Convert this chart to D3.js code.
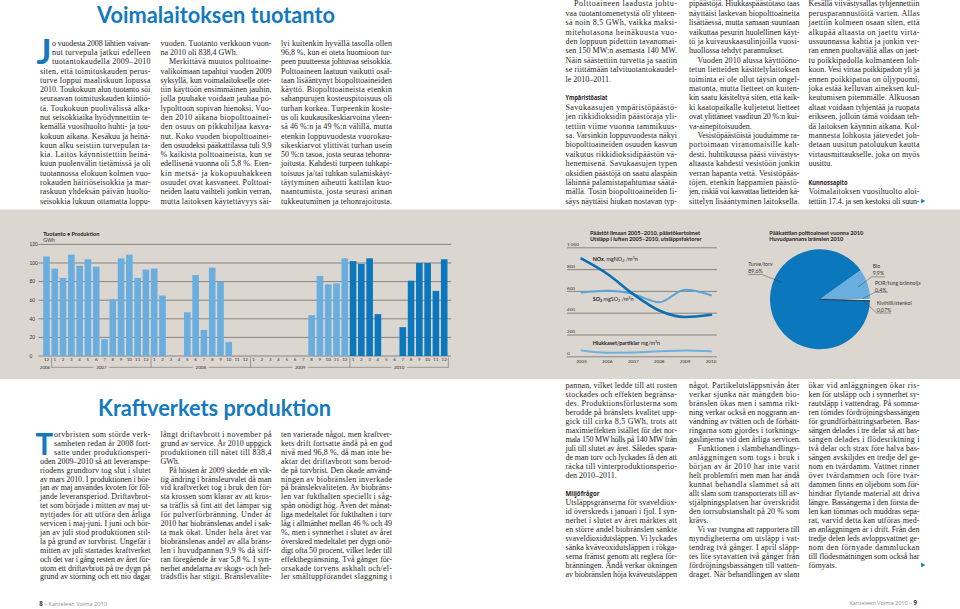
<!DOCTYPE html>
<html lang="fi">
<head>
<meta charset="utf-8">
<script src="https://cdn.jsdelivr.net/npm/d3@7/dist/d3.min.js"></script>
<style>
html,body{margin:0;padding:0;background:#fff;}
svg{display:block;}
</style>
</head>
<body>
<svg id="page" width="960" height="609"></svg>
<script>
// ================= DATA =================
// Production chart (GWh per month)
const prodYears = ["2006","2007","2008","2009","2010"];
const prodMonthLabels = ["12",
  "1","2","3","4","5","6","7","8","9","10","11","12",
  "1","2","3","4","5","6","7","8","9","10","11","12",
  "1","2","3","4","5","6","7","8","9","10","11","12",
  "1","2","3","4","5","6","7","8","9","10","11","12"];
const prodValues = [107,
  94,84,109,97,104,96,18,61,105,109,84,93,
  94,65,0,0,47,87,28,95,80,15,0,0,
  0,0,0,0,0,0,0,44,86,77,78,105,
  102,99,105,45,0,0,31,81,100,100,70,104];
const prodTicks = [0,20,40,60,80,100,120];
const prodHighlightYear = "2010";

// Emissions chart
const emisYears = ["2005","2006","2007","2008","2009","2010"];
const noxValues  = [900,760,575,425,365,385];
const so2Values  = [590,605,575,500,615,565];
const partValues = [58,38,40,50,58,50];
const emisTicks = [0,200,400,600,800,1000];
const emisTickLabels = ["0","200","400","600","800","1 000"];

// Fuel pie
const fuelNames  = ["Turve/torv","Bio","POR/tung brännolja","Kivihiili/stenkol"];
const fuelShares = [89.6, 9.9, 0.4, 0.07];
const fuelLabels = ["89,6%","9,9%","0,4%","0,07%"];

// Chart titles
const prodTitle = "Tuotanto • Produktion";
const prodUnit = "GWh";
const emisTitle = ["Päästöt ilmaan 2005–2010, päästökertoimet","Utsläpp i luften 2005–2010, utsläppsfaktorer"];
const pieTitle = ["Pääkattilan polttoaineet vuonna 2010","Huvudpannans bränslen 2010"];

// ================= TEXT =================
const titleFi = "Voimalaitoksen tuotanto";
const titleSv = "Kraftverkets produktion";

const fiCol1 = ["<o vuodesta 2008 lähtien vaivan-","<nut turvepula jatkui edelleen","<tuotantokaudella 2009–2010",
"siten, että toimituskauden perus-","turve loppui maaliskuun lopussa","2010. Toukokuun alun tuotanto söi",
"seuraavan toimituskauden kiintiö-","tä. Toukokuun puolivälissä alka-","nut seisokkiaika hyödynnettiin te-",
"kemällä vuosihuolto huhti- ja tou-","kokuun aikana. Kesäkuu ja heinä-","kuun alku seistiin turvepulan ta-",
"kia. Laitos käynnistettiin heinä-","kuun puolenvälin tietämissä ja oli","tuotannossa elokuun kolmen vuo-",
"rokauden häiriöseisokkia ja mar-","raskuun yhdeksän päivän huolto-","seisokkia lukuun ottamatta loppu-"];
const fiCol2 = ["vuoden. Tuotanto verkkoon vuon-","na 2010 oli 838,4 GWh.|",">Merkittävä muutos polttoaine-",
"valikoimaan tapahtui vuoden 2009","syksyllä, kun voimalaitokselle otet-","tiin käyttöön ensimmäinen jauhin,",
"jolla puuhake voidaan jauhaa pö-","lypolttoon sopivan hienoksi. Vuo-","den 2010 aikana biopolttoainei-",
"den osuus on pikkuhiljaa kasva-","nut. Koko vuoden biopolttoainei-","den osuudeksi pääkattilassa tuli 9,9",
"% kaikista polttoaineista, kun se","edellisenä vuonna oli 5,8 %. Eten-","kin metsä- ja kokopuuhakkeen",
"osuudet ovat kasvaneet. Polttoai-","neiden laatu vaihteli jonkin verran,","mutta laitoksen käytettävyys säi-"];
const fiCol3 = ["lyi kuitenkin hyvällä tasolla ollen","96,8 %, kun ei oteta huomioon tur-","peen puutteesta johtuvaa seisokkia.",
"Polttoaineen laatuun vaikutti osal-","taan lisääntynyt biopolttoaineiden","käyttö. Biopolttoaineista etenkin",
"sahanpurujen kosteuspitoisuus oli","turhan korkea. Turpeenkin koste-","us oli kuukausikeskiarvoina yleen-",
"sä 46 %:n ja 49 %:n välillä, mutta","etenkin loppuvuodesta vuorokau-","sikeskiarvot ylittivät turhan usein",
"50 %:n tasoa, josta seuraa tehonra-","joitusta. Kahdesti turpeen tuhkapi-","toisuus ja/tai tuhkan sulamiskäyt-",
"täytyminen aiheutti kattilan kuo-","naantumista, josta seurasi arinan","tukkeutuminen ja tehonrajoitusta."];
const fiCol4 = [">Polttoaineen laadusta johtu-","vaa tuotantomenetystä oli yhteen-","sä noin 8,5 GWh, vaikka maksi-",
"mitehotasona heinäkuusta vuo-","den loppuun pidettiin tavanomai-","sen 150 MW:n asemasta 140 MW.",
"Näin säästettiin turvetta ja saatiin","se riittämään talvituotantokaudel-","le 2010–2011.|","",
"#Ympäristöasiat","Savukaasujen ympäristöpäästö-","jen rikkidioksidin päästöraja yli-",
"tettiin viime vuonna tammikuus-","sa. Varsinkin loppuvuodesta näkyi","biopolttoaineiden osuuden kasvun",
"vaikutus rikkidioksidipäästön vä-","henemisenä. Savukaasujen typen","oksidien päästöjä on saatu alaspäin",
"lähinnä palamistapahtumaa säätä-","mällä. Tosin biopolttoaineiden li-","säys näyttäisi hiukan nostavan typ-"];
const fiCol5 = ["pipäästöjä. Hiukkaspäästötaso taas","näyttäisi laskevan biopolttoaineita","lisättäessä, mutta samaan suuntaan",
"vaikuttaa pesurin huolellinen käyt-","tö ja kuivauskaasulinjoilla vuosi-","huollossa tehdyt parannukset.|",
">Vuoden 2010 alussa käyttööno-","tetun lietteiden käsittelylaitoksen","toiminta ei ole ollut täysin ongel-",
"matonta, mutta lietteet on kuiten-","kin saatu käsiteltyä siten, että kaik-","ki kaatopaikalle kuljetetut lietteet",
"ovat ylittäneet vaaditun 20 %:n kui-","va-ainepitoisuuden.|",">Vesistöpäästöistä jouduimme ra-",
"portoimaan viranomaisille kah-","desti, huhtikuussa pääsi viivästys-","altaasta kahdesti vesistöön jonkin",
"verran hapanta vettä. Vesistöpääs-","töjen, etenkin happamien päästö-","jen, riskiä voi kasvattaa lietteiden kä-",
"sittelyn lisääntyminen laitoksella."];
const fiCol6 = ["Kesällä viivästysallas tyhjennettiin","perusparannustöitä varten. Allas","jaettiin kolmeen osaan siten, että",
"alkupää altaasta on jaettu virta-","ussuunnassa kahtia ja jonkin ver-","ran ennen puoltaväliä allas on jaet-",
"tu poikkipadolla kolmanteen loh-","koon. Vesi virtaa poikkipadon yli ja","ennen poikkipatoa on öljypuomi,",
"joka estää kelluvan aineksen kul-","keutumisen pitemmälle. Alkuosan","altaat voidaan tyhjentää ja ruopata",
"erikseen, jolloin tämä voidaan teh-","dä laitoksen käynnin aikana. Kol-","mannesta lohkosta jätevedet joh-",
"detaan uusitun patoluukun kautta","virtausmittaukselle, joka on myös","uusittu.|","",
"#Kunnossapito","Voimalaitoksen vuosihuolto aloi-","tettiin 17.4. ja sen kestoksi oli suun-"];

const svCol1 = ["<orvbristen som störde verk-","<samheten redan år 2008 fort-","<satte under produktionsperi-",
"oden 2009–2010 så att leveranspe-","riodens grundtorv tog slut i slutet","av mars 2010. I produktionen i bör-",
"jan av maj användes kvoten för föl-","jande leveransperiod. Driftavbrot-","tet som började i mitten av maj ut-",
"nyttjades för att utföra den årliga","servicen i maj-juni. I juni och bör-","jan av juli stod produktionen stil-",
"la på grund av torvbrist. Ungefär i","mitten av juli startades kraftverket","och det var i gång resten av året för-",
"utom ett driftavbrott på tre dygn på","grund av störning och ett nio dagar"];
const svCol2 = ["långt driftavbrott i november på","grund av service. År 2010 uppgick","produktionen till nätet till 838,4",
"GWh.|",">På hösten år 2009 skedde en vik-","tig ändring i bränsleurvalet då man",
"vid kraftverket tog i bruk den för-","sta krossen som klarar av att kros-","sa träflis så fint att det lämpar sig",
"för pulverförbränning. Under år","2010 har biobränslenas andel i sak-","ta mak ökat. Under hela året var",
"biobränslenas andel av alla bräns-","len i huvudpannan 9,9 % då siff-","ran föregående år var 5,8 %. I syn-",
"nerhet andelarna av skogs- och hel-","trädsflis har stigit. Bränslevalite-"];
const svCol3 = ["ten varierade något, men kraftver-","kets drift fortsatte ändå på en god","nivå med 96,8 %, då man inte be-",
"aktar det driftavbrott som berod-","de på torvbrist. Den ökade använd-","ningen av biobränslen inverkade",
"på bränslekvaliteten. Av biobräns-","len var fukthalten speciellt i såg-","spån onödigt hög. Även det månat-",
"liga medeltalet för fukthalten i torv","låg i allmänhet mellan 46 % och 49","%, men i synnerhet i slutet av året",
"överskred medeltalet per dygn onö-","digt ofta 50 procent, vilket leder till","effektbegränsning. Två gånger för-",
"orsakade torvens askhalt och/el-","ler smältuppförandet slaggning i"];
const svCol4 = ["pannan, vilket ledde till att rosten","stockades och effekten begränsa-","des. Produktionsförlusterna som",
"berodde på bränslets kvalitet upp-","gick till cirka 8,5 GWh, trots att","maximieffekten istället för det nor-",
"mala 150 MW hölls på 140 MW från","juli till slutet av året. Således spara-","de man torv och lyckades få den att",
"räcka till vinterproduktionsperio-","den 2010–2011.|","","#Miljöfrågor",
"Utsläppsgränserna för svaveldiox-","id överskreds i januari i fjol. I syn-","nerhet i slutet av året märktes att",
"en större andel biobränslen sänkte","svaveldioxidutsläppen. Vi lyckades","sänka kväveoxidutsläppen i rökga-",
"serna främst genom att reglera för-","bränningen. Ändå verkar ökningen","av biobränslen höja kväveutsläppen"];
const svCol5 = ["något. Partikelutsläppsnivån åter","verkar sjunka när mängden bio-","bränslen ökas men i samma rikt-",
"ning verkar också en noggrann an-","vändning av tvätten och de förbätt-","ringarna som gjordes i torknings-",
"gaslinjerna vid den årliga servicen.|",">Funktionen i slambehandlings-","anläggningen som togs i bruk i",
"början av år 2010 har inte varit","helt problemfri men man har ändå","kunnat behandla slammet så att",
"allt slam som transporterats till av-","stjälpningsplatsen har överskridit","den torrsubstanshalt på 20 % som",
"krävs.|",">Vi var tvungna att rapportera till","myndigheterna om utsläpp i vat-",
"tendrag två gånger. I april släpp-","tes lite syravatten två gånger från","fördröjningsbassängen till vatten-",
"draget. När behandlingen av slam"];
const svCol6 = ["ökar vid anläggningen ökar ris-","ken för utsläpp och i synnerhet sy-","rautsläpp i vattendrag. På somma-",
"ren tömdes fördröjningsbassängen","för grundförbättringsarbeten. Bas-","sängen delades i tre delar så att bas-",
"sängen delades i flödesriktning i","två delar och strax före halva bas-","sängen avskiljdes en tredje del ge-",
"nom en tvärdamm. Vattnet rinner","över tvärdammen och före tvär-","dammen finns en oljebom som för-",
"hindrar flytande material att driva","längre. Bassängerna i den första de-","len kan tömmas och muddras sepa-",
"rat, varvid detta kan utföras med-","an anläggningen är i drift. Från den","tredje delen leds avloppsvattnet ge-",
"nom den förnyade dammluckan","till flödesmätningen som också har","förnyats.|"];

const footerLeft = ["8"," – Kanteleen Voima 2010"];
const footerRight = ["Kanteleen Voima 2010 – ","9"];

// ================= STYLE / LAYOUT =================
const BLUE = "#137abf";
const DARK = "#0b77bd";
const LIGHT = "#6aaee0";
const INK = "#262223";
const SERIF = "'Liberation Serif','Times New Roman',serif";
const SANS = "'Open Sans','Noto Sans',sans-serif";
const CSANS = "Lato,'Open Sans',sans-serif";

const svg = d3.select("#page");
svg.append("rect").attr("width",960).attr("height",609).attr("fill","#fff");

// grey band behind charts
svg.append("rect").attr("x",0).attr("y",209.5).attr("width",960).attr("height",169.5).attr("fill","#dcd6d1");

// ---------- titles ----------
function bigTitle(str, x, y, len){
  svg.append("text").attr("x",x).attr("y",y).text(str)
    .attr("font-family","Lato,'Open Sans',sans-serif").attr("font-weight",700).attr("font-size",23)
    .attr("fill",BLUE).attr("textLength",len).attr("lengthAdjust","spacingAndGlyphs");
}
bigTitle(titleFi, 97, 23, 238);
bigTitle(titleSv, 98, 415.5, 233);

// ---------- body columns ----------
function drawColumn(lines, x0, w, y0, lh, dropIndent, headLen){
  const g = svg.append("g").attr("font-family",SERIF).attr("font-size",8).attr("fill",INK);
  let lastY = y0;
  lines.forEach((raw,i)=>{
    const y = y0 + i*lh;
    if(!raw) return;
    lastY = y;
    if(raw[0]==="#"){
      const s = raw.slice(1);
      g.append("text").attr("x",x0).attr("y",y).text(s)
        .attr("font-family",SANS).attr("font-weight",700).attr("font-size",7.4)
        .attr("textLength",headLen[s]).attr("lengthAdjust","spacingAndGlyphs");
      return;
    }
    let s = raw, ind = 0, just = true;
    if(s[0]===">"){ ind = 8.5; s = s.slice(1); }
    else if(s[0]==="<"){ ind = dropIndent; s = s.slice(1); }
    if(s.endsWith("|")){ just = false; s = s.slice(0,-1); }
    const t = g.append("text").attr("x",x0+ind).attr("y",y).text(s);
    if(just) t.attr("textLength",w-ind).attr("lengthAdjust","spacing");
  });
  return lastY;
}
const headLen = {"Ympäristöasiat":42,"Kunnossapito":39,"Miljöfrågor":34};
const colX = [40,160.5,281,565.5,689,808.5];
const colW = [110.5,111,111,111.5,110.5,111];

drawColumn(fiCol1, colX[0], colW[0], 45.7, 9.29, 12, headLen);
drawColumn(fiCol2, colX[1], colW[1], 45.7, 9.29, 0, headLen);
drawColumn(fiCol3, colX[2], colW[2], 45.7, 9.29, 0, headLen);
drawColumn(fiCol4, colX[3], colW[3], 6.3, 9.4, 0, headLen);
drawColumn(fiCol5, colX[4], colW[4], 6.3, 9.4, 0, headLen);
const fiLastY = drawColumn(fiCol6, colX[5], colW[5], 6.3, 9.4, 0, headLen);

drawColumn(svCol1, colX[0], colW[0], 437, 8.9, 14, headLen);
drawColumn(svCol2, colX[1], colW[1], 437, 8.9, 0, headLen);
drawColumn(svCol3, colX[2], colW[2], 437, 8.9, 0, headLen);
drawColumn(svCol4, colX[3], colW[3], 387.5, 9.0, 0, headLen);
drawColumn(svCol5, colX[4], colW[4], 387.5, 9.0, 0, headLen);
const svLastY = drawColumn(svCol6, colX[5], colW[5], 387.5, 9.0, 0, headLen);

// drop caps
function dropCap(ch, x, y, size){
  svg.append("text").attr("x",x).attr("y",y).text(ch)
    .attr("font-family","Lato,'Open Sans',sans-serif").attr("font-weight",700)
    .attr("font-size",size).attr("fill",BLUE);
}
dropCap("J", 36.5, 63.5, 35);
dropCap("T", 35.5, 455, 29.5);

// continuation arrows
const tri = d3.symbol().type(d3.symbolTriangle).size(9);
[fiLastY, svLastY].forEach(y=>{
  svg.append("path").attr("d",tri()).attr("fill",BLUE)
    .attr("transform",`translate(${colX[5]+colW[5]+3},${y-2.6}) rotate(90)`);
});

// footers
const fl = svg.append("text").attr("x",39.3).attr("y",606.3).attr("font-family",SANS);
fl.append("tspan").text(footerLeft[0]).attr("font-weight",700).attr("font-size",6.2).attr("fill","#333");
fl.append("tspan").text(footerLeft[1]).attr("font-size",5.6).attr("fill","#8c8c8c");
const fr = svg.append("text").attr("x",917).attr("y",605).attr("text-anchor","end").attr("font-family",SANS);
fr.append("tspan").text(footerRight[0]).attr("font-size",5.6).attr("fill","#8c8c8c");
fr.append("tspan").text(footerRight[1]).attr("font-weight",700).attr("font-size",6.2).attr("fill","#333");

// ================= CHART 1: production bars =================
(function(){
  const g = svg.append("g").attr("font-family",CSANS).attr("fill","#333");
  const yearOf = (i)=> i===0 ? 0 : Math.floor((i-1)/12)+1;
  const keys = prodValues.map((v,i)=> prodYears[yearOf(i)]+"-"+prodMonthLabels[i]);
  const x = d3.scalePoint().domain(keys).range([46.5,444.2]);
  const y = d3.scaleLinear().domain([0,120]).range([356,244.4]);
  const step = x.step();
  const bw = 6.6;

  g.append("text").attr("x",43.3).attr("y",235.6).text(prodTitle)
    .attr("font-weight",700).attr("font-size",5.6).attr("fill","#222")
    .attr("textLength",56).attr("lengthAdjust","spacingAndGlyphs");
  g.append("text").attr("x",43.3).attr("y",241.6).text(prodUnit).attr("font-size",5).attr("fill","#333");

  prodTicks.forEach(t=>{
    g.append("line").attr("x1",38.5).attr("x2",451).attr("y1",y(t)).attr("y2",y(t))
      .attr("stroke","#585858").attr("stroke-width",0.65);
    g.append("text").attr("x",29.5).attr("y",y(t)+1.7).text(t).attr("font-size",4.8).attr("fill","#333");
  });

  g.append("g").selectAll("rect").data(prodValues).join("rect")
    .attr("x",(d,i)=>x(keys[i])-bw/2).attr("width",bw)
    .attr("y",d=>y(d)).attr("height",d=>y(0)-y(d))
    .attr("fill",(d,i)=> prodYears[yearOf(i)]===prodHighlightYear ? DARK : LIGHT);

  g.append("g").selectAll("text").data(prodMonthLabels).join("text")
    .attr("x",(d,i)=>x(keys[i])).attr("y",360.6).attr("text-anchor","middle")
    .attr("font-size",4.5).text(d=>d);

  prodYears.forEach((yr,yi)=>{
    const idx = d3.range(keys.length).filter(i=>yearOf(i)===yi);
    const first = idx[0], last = idx[idx.length-1];
    const left = first===0 ? x(keys[0])-step/2 : (x(keys[first])+x(keys[first-1]))/2 + 1;
    const right = last===keys.length-1 ? x(keys[last])+step/2 : (x(keys[last])+x(keys[last+1]))/2 + 1;
    const cx = yi===0 ? x(keys[first])-1.5 : (left+right)/2;
    g.append("text").attr("x",cx).attr("y",368.8).attr("text-anchor","middle").attr("font-size",4.5).text(yr);
    if(yi>0){
      g.append("line").attr("x1",left).attr("x2",left).attr("y1",357.5).attr("y2",367.5)
        .attr("stroke","#555").attr("stroke-width",0.5);
      g.append("line").attr("x1",left).attr("x2",cx-8).attr("y1",367.3).attr("y2",367.3)
        .attr("stroke","#555").attr("stroke-width",0.5);
      g.append("line").attr("x1",cx+8).attr("x2",right).attr("y1",367.3).attr("y2",367.3)
        .attr("stroke","#555").attr("stroke-width",0.5);
      if(last===keys.length-1){
        g.append("line").attr("x1",right).attr("x2",right).attr("y1",357.5).attr("y2",367.5)
          .attr("stroke","#555").attr("stroke-width",0.5);
      }
    }
  });
})();

// ================= CHART 2: emissions lines =================
(function(){
  const g = svg.append("g").attr("font-family",CSANS).attr("fill","#333");
  const x = d3.scalePoint().domain(emisYears).range([581.5,711]);
  const y = d3.scaleLinear().domain([0,1000]).range([356.8,247.8]);

  emisTitle.forEach((t,i)=>{
    g.append("text").attr("x",590).attr("y",234.6+i*6.6).text(t)
      .attr("font-weight",700).attr("font-size",5.6).attr("fill","#222")
      .attr("textLength",i===0?110:111.5).attr("lengthAdjust","spacingAndGlyphs");
  });

  emisTicks.forEach((t,i)=>{
    g.append("line").attr("x1",567).attr("x2",717).attr("y1",y(t)).attr("y2",y(t))
      .attr("stroke","#585858").attr("stroke-width",0.65);
    g.append("text").attr("x",567).attr("y",y(t)-1.8).text(emisTickLabels[i]).attr("font-size",4.6);
  });

  g.selectAll(".yl").data(emisYears).join("text")
    .attr("x",d=>x(d)).attr("y",363.4).attr("text-anchor","middle").attr("font-size",4.6).text(d=>d);

  const line = d3.line().x((d,i)=>x(emisYears[i])).y(d=>y(d)).curve(d3.curveMonotoneX);
  const series = [
    {v:partValues, c:"#6db1e2", w:2},
    {v:so2Values, c:"#5aa4d9", w:2},
    {v:noxValues, c:"#0d6fb2", w:2.6}
  ];
  series.forEach(s=>{
    g.append("path").attr("d",line(s.v)).attr("fill","none")
      .attr("stroke",s.c).attr("stroke-width",s.w).attr("stroke-linecap","round");
  });

  function chem(xp, yp, parts){
    const t = g.append("text").attr("x",xp).attr("y",yp).attr("font-size",5.4).attr("fill","#222");
    parts.forEach(p=>{
      const ts = t.append("tspan").text(p.s);
      if(p.b) ts.attr("font-weight",700);
      if(p.sub){ ts.attr("font-size",3.8).attr("dy",1.3); }
      if(p.sup){ ts.attr("font-size",3.8).attr("dy",-1.8); }
      if(p.dy) ts.attr("dy",p.dy);
    });
  }
  chem(592.7,260.8,[{s:"NOx",b:1},{s:", mgNO"},{s:"2",sub:1},{s:" /m",dy:-1.3},{s:"3",sup:1},{s:"n",dy:1.8}]);
  chem(592.7,300.8,[{s:"SO",b:1},{s:"2",b:1,sub:1},{s:" mgSO",dy:-1.3},{s:"2",sub:1},{s:" /m",dy:-1.3},{s:"3",sup:1},{s:"n",dy:1.8}]);
  chem(592.7,345,[{s:"Hiukkaset/partiklar",b:1},{s:" mg/m"},{s:"3",sup:1},{s:"n",dy:1.8}]);
})();

// ================= CHART 3: fuel pie =================
(function(){
  const g = svg.append("g").attr("font-family",CSANS).attr("fill","#333");
  const cx = 820, cy = 299.3, r = 50;
  pieTitle.forEach((t,i)=>{
    g.append("text").attr("x",769.3).attr("y",234.6+i*6.6).text(t)
      .attr("font-weight",700).attr("font-size",5.6).attr("fill","#222")
      .attr("textLength",i===0?94:74).attr("lengthAdjust","spacingAndGlyphs");
  });
  const total = d3.sum(fuelShares);
  const a0 = Math.PI/2 - (fuelShares[0]+fuelShares[1])/total*2*Math.PI;
  const pie = d3.pie().sort(null).startAngle(a0).endAngle(a0+2*Math.PI);
  const arcs = pie(fuelShares);
  const arc = d3.arc().innerRadius(0).outerRadius(r);
  const colors = [DARK, LIGHT, "#ffffff", "#1b1b1b"];
  const pg = g.append("g").attr("transform",`translate(${cx},${cy})`);
  pg.selectAll("path").data(arcs).join("path").attr("d",arc)
    .attr("fill",(d,i)=>colors[i])
    .attr("stroke",(d,i)=> i===3 ? "#1b1b1b" : "none").attr("stroke-width",0.5);

  const ann = [
    {tx:748.3, ty:266, ul:[748.3,762], uy:274.5, ang:-66*Math.PI/180, rf:0.81},
    {tx:872.7, ty:268.3, ul:[871.7,885], uy:276.8, ang:null, rf:0.8},
    {tx:875, ty:285, ul:[875,888], uy:292.2, ang:null, rf:0.86},
    {tx:876.7, ty:305, ul:[876.7,891], uy:313, ang:null, rf:0.86}
  ];
  ann.forEach((a,i)=>{
    const ang = a.ang!==null ? a.ang : (arcs[i].startAngle+arcs[i].endAngle)/2 + (i===2?-0.03:0);
    const px = cx + Math.sin(ang)*r*a.rf, py = cy - Math.cos(ang)*r*a.rf;
    const attach = i===0 ? [a.ul[1],a.uy] : [a.ul[0],a.uy];
    g.append("path").attr("d",`M${a.ul[0]},${a.uy}H${a.ul[1]}M${attach[0]},${attach[1]}L${px},${py}`)
      .attr("fill","none").attr("stroke","#3a3a3a").attr("stroke-width",0.45);
    g.append("text").attr("x",a.tx).attr("y",a.ty).text(fuelNames[i]).attr("font-size",5.2).attr("fill","#333");
    g.append("text").attr("x",a.tx).attr("y",a.ty+6.6).text(fuelLabels[i]).attr("font-size",5.2).attr("fill","#333");
  });
})();
</script>
</body>
</html>
